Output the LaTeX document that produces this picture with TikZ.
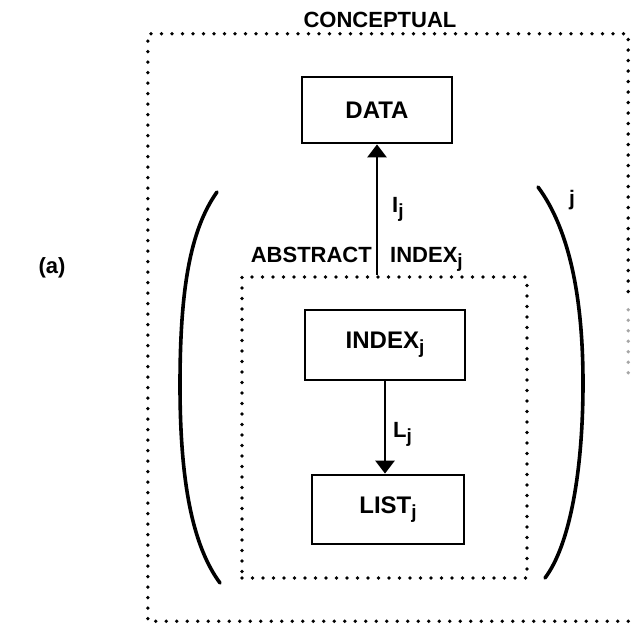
\documentclass[tikz,border=0pt]{standalone}
\usepackage{fontspec}
\setmainfont{Liberation Sans}
\usetikzlibrary{arrows.meta}
\newcommand\subj{\raisebox{-5pt}{\fontsize{19}{19}\selectfont j}}
\tikzset{
  boxtext/.style={font=\fontsize{24}{24}\selectfont\bfseries},
  labeltext/.style={font=\fontsize{22}{22}\selectfont\bfseries, inner sep=0pt},
  solidbox/.style={draw, line width=2.8pt, boxtext, inner sep=0pt},
  dotline/.style={line width=3.8pt, line cap=round,
    dash pattern=on 0pt off 10.5pt},
  dotbox/.style={draw, dotline, inner sep=0pt},
  paren/.style={line width=3.6pt, line cap=round},
  flow/.style={line width=2.8pt, -{Triangle[width=19pt,length=13pt]}},
}
\begin{document}
\begin{tikzpicture}[x=1pt,y=-1pt]
  \useasboundingbox (0,0) rectangle (632,626);

  % conceptual region: its lower right side is worn away
  \node[minimum width=480pt, minimum height=587pt, inner sep=0pt] (outer) at (388,327.5) {};
  \draw[dotline] (outer.south east) -- (outer.south west) -- (outer.north west)
                 -- (outer.north east) -- ([yshift=-266pt]outer.north east);
  \draw[dotline, black!35] ([yshift=-276pt]outer.north east) -- ([yshift=-346pt]outer.north east);

  % abstract region
  \node[dotbox, minimum width=285pt, minimum height=301pt] (inner) at (384.5,427.5) {};

  % region titles
  \node[labeltext, anchor=base] (concept) at (380,28) {CONCEPTUAL};
  \node[labeltext, anchor=base east] (abstract) at (372,262) {ABSTRACT};
  \node[labeltext, anchor=base west] (indexlbl) at (390,262) {INDEX\subj};

  % component boxes
  \node[solidbox, minimum width=150pt, minimum height=66pt] (data) at (377,110) {DATA};
  \node[solidbox, minimum width=160pt, minimum height=70pt] (index) at (385,345) {INDEX\subj};
  \node[solidbox, minimum width=152pt, minimum height=69pt] (list) at (388,509.5) {LIST\subj};

  % mappings
  \draw[flow] (data.south |- inner.north) -- (data.south);
  \draw[flow] (index.south) -- (index.south |- list.north);
  \node[labeltext, anchor=base west] (ilbl) at (392,212) {I\subj};
  \node[labeltext, anchor=base west] (llbl) at (393,437) {L\subj};

  % indexed family brackets
  \draw[paren] (217,192) .. controls (190,230) and (180,290) .. (180,385)
               .. controls (180,480) and (192,545) .. (220,583);
  \draw[paren] (538,187) .. controls (570,230) and (583,300) .. (583,383)
               .. controls (583,470) and (570,545) .. (545,578);
  \node[labeltext] (jidx) at (572,200) {\fontsize{21}{21}\selectfont j};

  % figure tag
  \node[labeltext] (tag) at (52,268) {(a)};
\end{tikzpicture}
\end{document}
